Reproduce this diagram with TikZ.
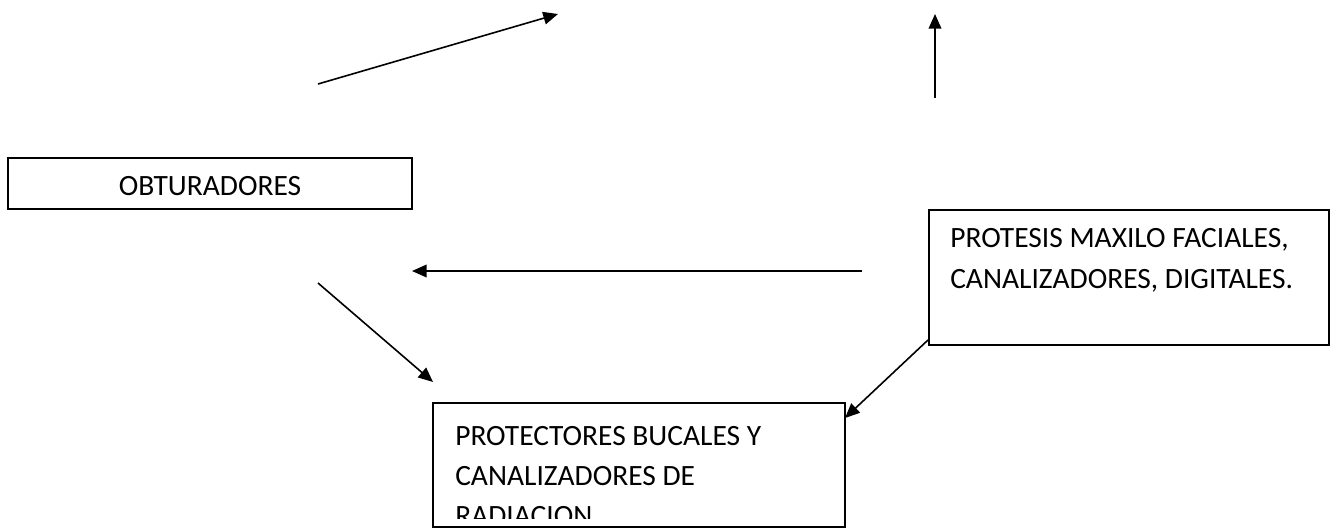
\documentclass[tikz,border=0pt]{standalone}
\usepackage{fontspec}
\setmainfont{Carlito}
\usetikzlibrary{arrows.meta,fit}
\begin{document}
\begin{tikzpicture}[x=0.75pt,y=-0.75pt,
  every node/.style={font=\fontsize{22.1}{30}\selectfont, text=black},
  boxnode/.style={draw=black, line width=1.2pt, inner sep=0pt, rectangle},
  txtline/.style={anchor=base west, inner sep=0pt},
  conn/.style={draw=black, line width=1.2pt, -{Triangle[length=11pt,width=9.5pt]}}]
\useasboundingbox (0,0) rectangle (1330,529);
% box corners
\coordinate (obtA) at (8,158);
\coordinate (obtB) at (412,209);
\coordinate (proA) at (929,210);
\coordinate (proB) at (1329,345);
\coordinate (bucA) at (433,403);
\coordinate (bucB) at (845,527);
% boxes
\node[boxnode, fit=(obtA)(obtB)] (obt) {};
\node[anchor=base, inner sep=0pt] (obtT) at (210,195) {OBTURADORES};
\node[boxnode, fit=(proA)(proB)] (pro) {};
\node[txtline] (proT1) at (950,247) {PROTESIS MAXILO FACIALES,};
\node[txtline] (proT2) at (950,288) {CANALIZADORES, DIGITALES.};
\node[boxnode, fit=(bucA)(bucB)] (buc) {};
\begin{scope}
\clip (434,404) rectangle (844,518);
\node[txtline] (bucT1) at (455,445) {PROTECTORES BUCALES Y};
\node[txtline] (bucT2) at (455,485) {CANALIZADORES DE};
\node[txtline] (bucT3) at (455,525) {RADIACION};
\end{scope}
% arrow ends
\coordinate (a1s) at (318,84);
\coordinate (a1e) at (558,14);
\coordinate (a2s) at (935,98);
\coordinate (a2e) at (935,14);
\coordinate (a3s) at (862,271);
\coordinate (a3e) at (412,271);
\coordinate (a4s) at (318,283);
\coordinate (a4e) at (433,382);
\coordinate (a5s) at (928,340);
\coordinate (a5e) at (845,418);
\draw[conn] (a1s) -- (a1e);
\draw[conn] (a2s) -- (a2e);
\draw[conn] (a3s) -- (a3e);
\draw[conn] (a4s) -- (a4e);
\draw[conn] (a5s) -- (a5e);
\end{tikzpicture}
\end{document}
